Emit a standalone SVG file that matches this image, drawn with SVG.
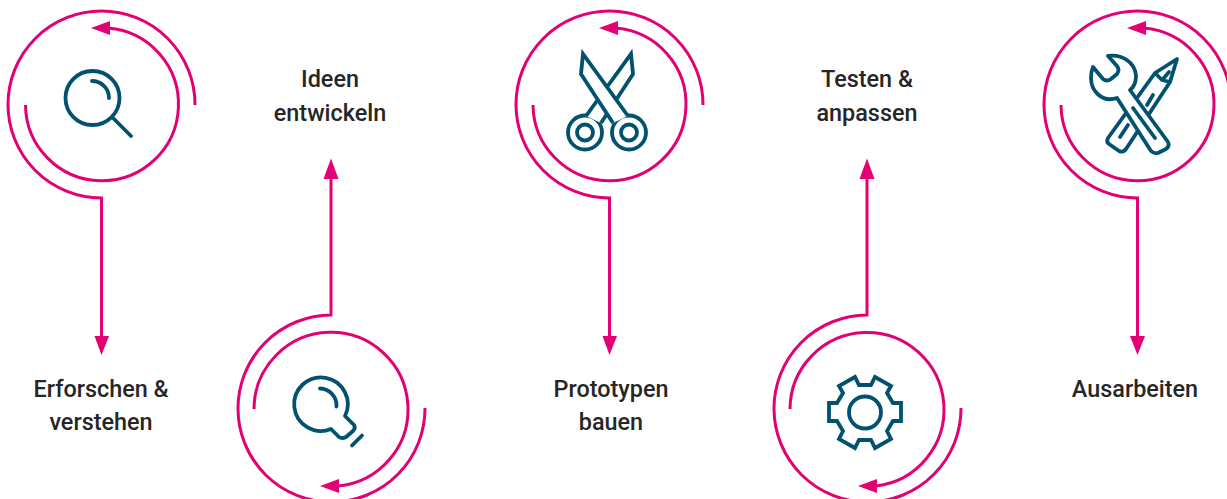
<svg xmlns="http://www.w3.org/2000/svg" width="1227" height="499" viewBox="0 0 1227 499">
<style>
.p{fill:none;stroke:#e20074;stroke-width:3}
.h{fill:#e20074}
.i{fill:none;stroke:#00526e;stroke-width:3.8;stroke-linejoin:miter}
.w{fill:#fff;stroke:#00526e;stroke-width:3.8;stroke-linejoin:miter}
.r{stroke-linecap:round;stroke-linejoin:round}
text{font-family:Roboto,"Liberation Sans",sans-serif;font-weight:500;font-size:23.4px;fill:#262626;text-anchor:middle}
</style>
<rect width="1227" height="499" fill="#fff"/>
<g id="connectors">
<path class="p" d="M195 105A93.500 93.500 0 1 0 101.500 198V338"/><path class="h" d="M94.500 336H109L101.500 355Z"/>
<path class="p" d="M425 408A93.500 93.500 0 1 1 331 315V178"/><path class="h" d="M323.500 179H338.500L331 158.500Z"/>
<path class="p" d="M703 105A93.500 93.500 0 1 0 609.500 198V338"/><path class="h" d="M602.500 336H617L609.500 355Z"/>
<path class="p" d="M961 408A93.500 93.500 0 1 1 867 315V178"/><path class="h" d="M859.500 179H874.500L867 158.500Z"/>
<path class="p" d="M1231 105A93.500 93.500 0 1 0 1137.500 198V338"/><path class="h" d="M1130 336H1145L1137.500 355Z"/>
</g>
<g id="node-1">
<path class="p" d="M25.500 105A76.500 76.500 0 1 0 108 28"/><path class="h" d="M110 21V35L91 28Z"/>
<circle class="i" cx="92.500" cy="98" r="27"/><path class="i r" d="M92 81A17 17 0 0 1 109 98M113 118L131 136"/>
<text x="101" y="397">Erforschen &amp;</text><text x="101" y="430">verstehen</text>
</g>
<g id="node-2">
<path class="p" d="M254 409A77 77 0 1 1 338 486"/><path class="h" d="M339 479V493L320 486Z"/>
<path class="i r" d="M331 429L339 437Q342 439 346 437L353 431Q356 428 354 425L345 416A26.800 26.800 0 1 0 331 429ZM320 388.500A17 17 0 0 1 336.500 406.500M352 445.500L362 435.500"/>
<text x="330" y="87">Ideen</text><text x="330" y="121">entwickeln</text>
</g>
<g id="node-3">
<path class="p" d="M533 105A76.500 76.500 0 1 0 616 28"/><path class="h" d="M618 21V35L599 28Z"/>
<circle class="i" cx="585" cy="132.500" r="17"/><circle class="i" cx="629" cy="132.500" r="17"/>
<path class="w" d="M586 116L631 54L633 74L601 123"/>
<path class="w" d="M628 116L583 54L581 74L613 123"/>
<circle class="i" cx="585" cy="132.500" r="8"/><circle class="i" cx="629" cy="132.500" r="8"/>
<text x="611" y="397">Prototypen</text><text x="611" y="430">bauen</text>
</g>
<g id="node-4">
<path class="p" d="M790 409A77 77 0 1 1 876 486"/><path class="h" d="M877 479V493L858 486Z"/>
<path class="i" d="M859 385H871L875 377L891 386L887 393L893 403H901V421H893L887 431L891 439L875 448L871 440H859L855 448L839 439L843 431L837 421H829V403H837L843 393L839 386L855 377Z"/>
<circle class="i" cx="865" cy="412.500" r="16"/>
<text x="867" y="87">Testen &amp;</text><text x="867" y="121">anpassen</text>
</g>
<g id="node-5">
<path class="p" d="M1061 105A76.500 76.500 0 1 0 1144 28"/><path class="h" d="M1146 21V35L1127 28Z"/>
<path class="w r" d="M1177 59L1155 73L1108 138Q1106 142 1109 144L1119 151Q1123 153 1126 149L1170 82ZM1155 73L1162 80L1170 82M1163 79L1169 72M1153 95L1147 105M1128 125L1120 137"/>
<path class="w r" d="M1108 56C1122 54 1135 62 1136 76C1136 82 1134 87 1130 90L1168 142Q1170 146 1166 149L1158 153Q1154 154 1151 151L1117 98C1102 103 1091 91 1091 78Q1091 72 1093 67L1103 79Q1107 82 1111 79L1117 74Q1120 70 1117 66ZM1133 108L1155 138"/>
<text x="1135" y="397">Ausarbeiten</text>
</g>
</svg>
